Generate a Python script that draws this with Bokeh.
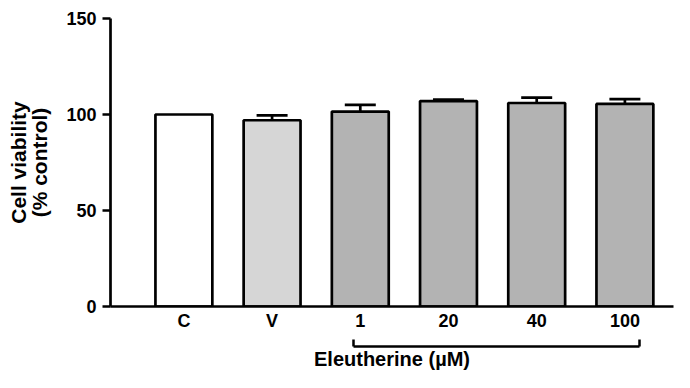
from bokeh.plotting import figure
from bokeh.models import (Range1d, FixedTicker, LinearAxis, Whisker, TeeHead,
                          ColumnDataSource)
from bokeh.embed import file_html
from bokeh.resources import INLINE

# ---- data ----
categories = ["C", "V", "1", "20", "40", "100"]
viability = [100.0, 97.0, 101.5, 107.0, 106.0, 105.5]
sem = [0.0, 2.5, 3.5, 0.7, 2.8, 2.5]
bar_colors = ["#ffffff", "#d6d6d6", "#b3b3b3", "#b3b3b3", "#b3b3b3", "#b3b3b3"]
y_ticks = [0, 50, 100, 150]
group_label = "Eleutherine (\u00b5M)"
group_members = ["1", "20", "40", "100"]

FONT = "Liberation Sans"

idx = list(range(len(categories)))
src = ColumnDataSource(dict(x=idx, top=viability, color=bar_colors))
has_err = [i for i, e in enumerate(sem) if e > 0]
err_src = ColumnDataSource(dict(
    x=[idx[i] for i in has_err],
    top=[viability[i] for i in has_err],
    upper=[viability[i] + sem[i] for i in has_err],
))

p = figure(width=674, height=372, output_backend="svg", toolbar_location=None,
           x_range=Range1d(-0.832, 5.551), y_range=Range1d(0, 150),
           min_border_left=110, min_border_right=1, min_border_top=18,
           min_border_bottom=66, x_axis_type=None, y_axis_type=None)
p.outline_line_color = None
p.xgrid.visible = False
p.ygrid.visible = False

p.vbar(x="x", top="top", width=0.645, source=src, fill_color="color",
       line_color="black", line_width=2.7)

w = Whisker(base="x", lower="top", upper="upper", source=err_src, dimension="height",
            lower_head=None,
            upper_head=TeeHead(size=31, line_width=2.7, line_color="black"),
            line_width=2.7, line_color="black", level="overlay")
p.add_layout(w)

# y axis
yax = LinearAxis(ticker=FixedTicker(ticks=y_ticks))
yax.axis_line_width = 2.7
yax.major_tick_line_width = 2.7
yax.major_tick_out = 8
yax.major_tick_in = 0
yax.minor_tick_out = 0
yax.minor_tick_in = 0
yax.major_label_text_font = FONT
yax.major_label_text_font_style = "bold"
yax.major_label_text_font_size = "18px"
yax.major_label_text_color = "black"
yax.major_label_standoff = 6
yax.axis_label = "Cell viability\n(% control)"
yax.axis_label_text_font = FONT
yax.axis_label_text_font_style = "bold"
yax.axis_label_text_font_size = "21px"
yax.axis_label_text_line_height = 0.95
yax.axis_label_standoff = 12
yax.axis_label_text_color = "black"
p.add_layout(yax, "left")

# x axis with category labels
xax = LinearAxis(ticker=FixedTicker(ticks=idx))
xax.major_label_overrides = {i: c for i, c in zip(idx, categories)}
xax.axis_line_width = 2.7
xax.major_tick_out = 0
xax.major_tick_in = 0
xax.minor_tick_out = 0
xax.minor_tick_in = 0
xax.major_label_text_font = FONT
xax.major_label_text_font_style = "bold"
xax.major_label_text_font_size = "18px"
xax.major_label_text_color = "black"
xax.major_label_standoff = 4
xax.axis_label = " "
xax.axis_label_text_font_size = "9px"
xax.axis_label_text_color = None
xax.axis_label_standoff = 0
p.add_layout(xax, "below")

# bracket for the Eleutherine group
g_idx = [categories.index(g) for g in group_members]
b0 = g_idx[0] - 0.08
b1 = g_idx[-1] + 0.16
bax = LinearAxis(ticker=FixedTicker(ticks=[b0, b1]), bounds=(b0, b1))
bax.axis_line_width = 2.5
bax.major_tick_line_width = 2.5
bax.major_tick_in = 7
bax.major_tick_out = 0
bax.minor_tick_in = 0
bax.minor_tick_out = 0
bax.major_label_text_font_size = "1px"
bax.major_label_text_color = None
bax.major_label_standoff = 0
bax.axis_label = group_label
bax.axis_label_text_font = FONT
bax.axis_label_text_font_style = "bold"
bax.axis_label_text_font_size = "20px"
bax.axis_label_text_color = "black"
bax.axis_label_standoff = 1
p.add_layout(bax, "below")

open("out.html", "w").write(file_html(p, INLINE))
